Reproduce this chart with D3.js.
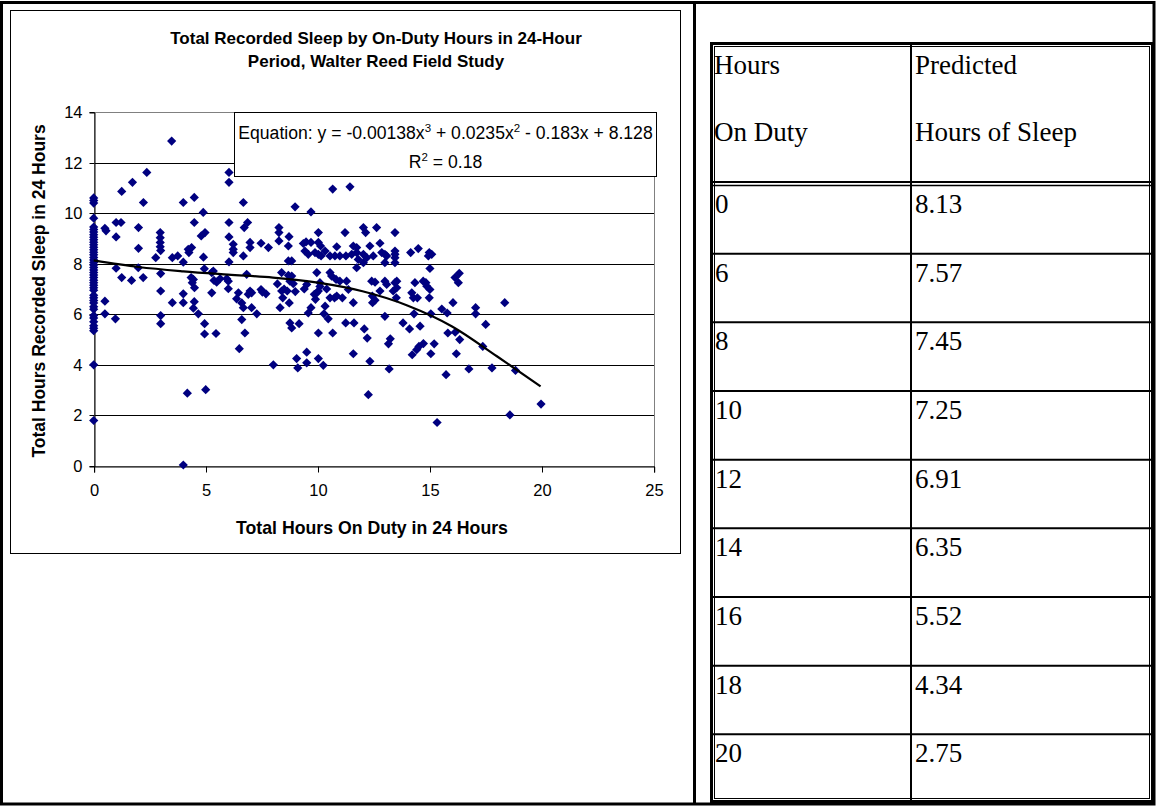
<!DOCTYPE html>
<html><head><meta charset="utf-8">
<script src="https://cdn.jsdelivr.net/npm/d3@7"></script>
<style>html,body{margin:0;padding:0;background:#fff;} svg{display:block;}</style>
</head><body>
<svg id="c" width="1156" height="806"></svg>
<script>
// ---------- data ----------
const chartTitle = ["Total Recorded Sleep by On-Duty Hours in 24-Hour", "Period, Walter Reed Field Study"];
const xTitle = "Total Hours On Duty in 24 Hours";
const yTitle = "Total Hours Recorded Sleep in 24 Hours";
const xTicks = [0, 5, 10, 15, 20, 25];
const yTicks = [0, 2, 4, 6, 8, 10, 12, 14];
// recorded sleep of subjects with 0 hours on duty
const zeroDutySleep = [10.6,10.5,10.4,9.8,9.45,9.35,9.25,9.15,9.05,8.95,8.85,8.75,8.65,8.55,8.45,8.35,8.25,8.15,8.05,7.95,7.85,7.75,7.65,7.55,7.45,7.35,7.25,7.15,7.05,6.95,6.75,6.65,6.55,6.45,6.3,6.2,5.95,5.85,5.7,5.55,5.45,5.35,4.0,1.8];
// [hours on duty, hours recorded sleep]
const dutySleep = [
[0.5,9.4],[0.55,9.3],[1.0,9.63],[1.22,9.63],[1.0,9.06],[1.25,10.86],[1.73,11.22],[2.22,10.42],[2.37,11.61],[3.48,12.85],[2.0,9.43],[2.0,8.61],[1.0,7.82],[1.25,7.45],[1.69,7.34],[1.99,7.84],[2.21,7.45],[0.5,6.52],[0.5,6.02],[0.97,5.82],
[2.97,9.23],[2.97,9.03],[2.97,8.84],[2.97,8.67],[2.99,8.52],[2.77,8.24],[2.99,7.61],[2.99,6.92],[2.99,5.95],[2.99,5.63],
[3.51,8.24],[3.75,8.31],[4.0,8.06],[4.0,10.42],[4.49,10.62],[4.22,8.57],[4.37,8.64],[4.25,8.44],[4.49,9.63],[4.89,10.03],[4.8,9.1],[4.97,9.23],[4.9,8.26],[4.35,7.45],[4.4,7.25],[4.5,7.05],[4.0,6.81],[3.51,6.46],[4.0,6.46],[4.49,6.5],[4.45,6.24],[4.67,6.02],[4.95,5.63],[4.95,5.22],[4.94,7.8],[4.18,2.88],[5.0,3.02],[4.0,0.04],
[4.45,7.38],[5.34,7.71],[5.49,7.27],[5.27,6.85],
[6.04,11.61],[6.04,11.22],[6.68,10.42],[8.99,10.25],[9.7,10.05],[10.67,10.95],[11.44,11.04],
[6.04,9.63],[6.04,9.06],[6.72,9.43],[6.87,9.63],[6.23,8.77],[6.23,8.57],[6.98,8.84],[6.98,8.64],[7.47,8.81],[7.8,8.64],[8.27,9.43],[8.27,9.23],[8.27,8.9],[8.72,9.07],[8.69,8.70],[9.36,8.8],[9.48,8.86],[9.7,8.84],[10.03,9.23],[10.03,8.84],[10.13,8.70],[11.22,9.23],[12.04,9.43],[12.14,9.23],[12.63,9.43],[12.78,8.81],[13.45,9.23],[10.85,8.67],[11.59,8.7],[11.74,8.64],[12.33,8.70],[12.86,8.44],
[6.04,8.07],[6.23,8.44],[6.68,8.31],[8.69,8.11],[8.84,8.11],[9.43,8.5],[9.58,8.37],[9.88,8.44],[10.03,8.37],[10.15,8.31],[10.33,8.5],[10.55,8.31],[10.77,8.31],[10.99,8.31],[11.26,8.31],[11.52,8.37],[11.74,8.44],[12.04,8.37],[12.19,8.24],[12.48,8.31],[13.08,8.31],[13.45,8.24],[11.81,8.17],[11.74,7.84],[12.04,8.04],
[5.27,7.65],[5.37,7.34],[5.64,7.41],[5.94,7.41],[6.01,7.01],[6.46,6.85],[6.98,6.92],[7.05,6.85],[7.47,6.98],[7.53,6.88],[6.83,7.58],[8.39,7.65],[8.69,7.54],[8.84,7.51],[8.76,7.31],[8.91,7.21],[8.39,6.92],[8.64,6.92],[9.51,7.18],[9.96,7.65],[9.96,6.85],[10.03,6.92],[10.55,7.65],[10.62,7.51],[10.82,7.38],[10.99,7.31],[11.29,7.31],[11.37,6.98],[12.41,7.31],[12.56,7.27],[12.78,6.92],[13.0,7.31],[13.08,7.18],[12.44,6.72],[13.53,7.31],[10.85,6.72],
[13.45,8.5],[13.45,8.37],[13.0,8.37],[13.0,8.04],[13.45,8.04],[14.15,8.44],[14.49,8.6],[14.98,8.44],[15.09,8.37],[14.94,8.31],[15.01,7.81],[16.13,7.45],[16.32,7.62],[16.28,7.25],[13.45,7.25],[13.53,7.05],[13.37,6.92],[14.2,6.85],[14.27,6.65],[14.34,7.25],[14.71,7.31],[14.87,7.11],[15.01,6.98],
[14.83,7.25],[14.45,6.65],[14.98,6.65],[13.51,6.65],[16.04,6.46],[15.54,6.21],[15.78,6.05],[14.3,6.02],[15.05,6.02],[13.0,5.92],[17.05,6.26],[17.05,6.02],[18.35,6.46],[13.81,5.66],[14.1,5.42],[14.57,5.53],[15.81,5.26],[16.14,5.29],[16.34,5.0],[17.5,5.6],[13.24,5.03],[13.16,4.83],[14.22,4.4],[14.42,4.6],[14.52,4.73],[14.72,4.84],[15.05,4.44],[15.2,4.83],[16.19,4.44],[17.37,4.73],[13.19,3.84],[15.73,3.61],[16.75,3.84],[17.78,3.88],[18.83,3.78],[15.33,1.72],[18.58,2.02],[19.97,2.45],
[6.01,7.31],[6.38,6.61],[6.61,6.45],[6.68,6.26],[6.9,6.79],[7.69,6.81],[7.05,6.26],[7.28,6.02],[6.61,5.79],[5.46,5.24],[6.75,5.26],[6.5,4.64],[8.02,4.0],[8.32,6.26],[8.44,6.65],[8.73,6.45],[8.76,5.66],[8.84,5.46],[9.17,5.63],[9.06,4.25],[9.11,3.88],[9.51,4.5],[9.51,4.08],[10.03,4.25],[10.25,3.98],[10.03,5.26],[9.58,6.05],[9.7,6.26],[9.85,6.79],[9.9,6.59],[10.33,6.32],[10.28,6.02],[10.47,5.82],[11.25,5.66],[11.62,5.66],[10.67,5.26],[11.59,6.46],[11.59,4.44],[12.08,5.42],[12.21,5.06],[12.33,4.14],[12.26,2.82],[12.45,6.46],[12.56,6.56],
[10.1,7.25],[10.1,7.1],[10.4,7.0],[10.55,6.65],[10.75,6.65],[11.1,6.65],[8.2,7.2],[8.5,7.0],[9.0,6.9],[9.4,7.0]
];
// fitted trend line
const trendHours = [0, 2, 4, 6, 8, 10, 12, 14, 16, 18, 19.95];
const trendSleep = [8.13, 7.87, 7.70, 7.57, 7.45, 7.25, 6.91, 6.35, 5.52, 4.34, 3.15];
const equationText = "Equation: y = -0.00138x";
const rSquared = "0.18";
// table
const tableHeadLeft = ["Hours", "On Duty"];
const tableHeadRight = ["Predicted", "Hours of Sleep"];
const tableHours = ["0", "6", "8", "10", "12", "14", "16", "18", "20"];
const tablePredicted = ["8.13", "7.57", "7.45", "7.25", "6.91", "6.35", "5.52", "4.34", "2.75"];

// ---------- drawing ----------
const svg = d3.select("#c");
const sans = "'Liberation Sans', Arial, sans-serif";
const serif = "'Liberation Serif', 'Times New Roman', serif";

// page frame
svg.append("rect").attr("x",1.5).attr("y",2.5).attr("width",1152.5).attr("height",801.5)
  .attr("fill","none").attr("stroke","#000").attr("stroke-width",3);
svg.append("line").attr("x1",694.5).attr("x2",694.5).attr("y1",2).attr("y2",805)
  .attr("stroke","#000").attr("stroke-width",3);

// chart area
svg.append("rect").attr("x",10.5).attr("y",10.5).attr("width",670).attr("height",543)
  .attr("fill","#fff").attr("stroke","#000").attr("stroke-width",1);

const x = d3.scaleLinear().domain([0,25]).range([93.7,653.7]);
const y = d3.scaleLinear().domain([0,14]).range([466,112]);
const L = Math.round(x(0)), R = Math.round(x(25)), T = Math.round(y(14)), B = Math.round(y(0));

// gridlines
svg.append("g").selectAll("line").data(yTicks.filter(v => v > 0 && v < 14)).join("line")
  .attr("x1",L).attr("x2",R).attr("y1",d => Math.round(y(d))+0.5).attr("y2",d => Math.round(y(d))+0.5)
  .attr("stroke","#000").attr("stroke-width",1);
// plot border
svg.append("rect").attr("x",L+0.5).attr("y",T+0.5).attr("width",R-L).attr("height",B-T)
  .attr("fill","none").attr("stroke","#808080").attr("stroke-width",1);

// axes
const yAxis = d3.axisLeft(y).tickValues(yTicks).tickSize(5).tickPadding(7).tickFormat(d3.format("d"));
const gy = svg.append("g").attr("transform",`translate(${L+0.5},0.5)`).call(yAxis);
const xAxis = d3.axisBottom(x).tickValues(xTicks).tickSize(6).tickPadding(12).tickFormat(d3.format("d"));
const gx = svg.append("g").attr("transform",`translate(0.5,${B+0.5})`).call(xAxis);
[gx, gy].forEach(g => {
  g.select(".domain").attr("stroke","#000");
  g.selectAll(".tick line").attr("stroke","#000");
  g.selectAll("text").attr("font-family",sans).attr("font-size",16.5).attr("fill","#000");
});
gx.selectAll(".tick").attr("transform", d => `translate(${Math.round(x(d))},0)`);
gy.selectAll(".tick").attr("transform", d => `translate(0,${Math.round(y(d))})`);

// trend line
const line = d3.line().x((d,i) => x(trendHours[i])).y(d => y(d)).curve(d3.curveMonotoneX);

// markers
const diamond = "M0,-4.6L4.6,0L0,4.6L-4.6,0Z";
const pts = zeroDutySleep.map(v => [0, v]).concat(dutySleep);
svg.append("g").selectAll("path").data(pts).join("path")
  .attr("d", diamond)
  .attr("transform", d => `translate(${x(d[0])},${y(d[1])})`)
  .attr("fill","#000080");

svg.append("path").attr("d", line(trendSleep)).attr("fill","none")
  .attr("stroke","#000").attr("stroke-width",2.2);

// equation box
svg.append("rect").attr("x",234.5).attr("y",112.5).attr("width",422).attr("height",64)
  .attr("fill","#fff").attr("stroke","#000").attr("stroke-width",1);
const eq = svg.append("text").attr("x",445.5).attr("y",139).attr("text-anchor","middle")
  .attr("font-family",sans).attr("font-size",17.6).attr("fill","#000");
eq.append("tspan").text(equationText);
eq.append("tspan").attr("font-size",11.5).attr("dy",-7).text("3");
eq.append("tspan").attr("dy",7).text(" + 0.0235x");
eq.append("tspan").attr("font-size",11.5).attr("dy",-7).text("2");
eq.append("tspan").attr("dy",7).text(" - 0.183x + 8.128");
const r2 = svg.append("text").attr("x",445.5).attr("y",168).attr("text-anchor","middle")
  .attr("font-family",sans).attr("font-size",17.6).attr("fill","#000");
r2.append("tspan").text("R");
r2.append("tspan").attr("font-size",11.5).attr("dy",-7).text("2");
r2.append("tspan").attr("dy",7).text(" = " + rSquared);

// titles
svg.append("g").selectAll("text").data(chartTitle).join("text")
  .attr("x",376).attr("y",(d,i) => 44 + i*23).attr("text-anchor","middle")
  .attr("font-family",sans).attr("font-weight","bold").attr("font-size",17).text(d => d);
svg.append("text").attr("x",372).attr("y",534).attr("text-anchor","middle")
  .attr("font-family",sans).attr("font-weight","bold").attr("font-size",17.7).text(xTitle);
svg.append("text").attr("transform","translate(45,291) rotate(-90)").attr("text-anchor","middle")
  .attr("font-family",sans).attr("font-weight","bold").attr("font-size",17.5).text(yTitle);

// ---------- table ----------
const tb = svg.append("g");
const tL = 710, tR = 1154, tT = 42, tB = 803, colX = 911;
const headBottom = 182;
const rowTop = d3.scaleLinear().domain([0, tableHours.length]).range([185, 803]);
// outer double border
tb.append("rect").attr("x",tL+1.5).attr("y",tT+1.5).attr("width",tR-tL-3).attr("height",tB-tT-3)
  .attr("fill","none").attr("stroke","#000").attr("stroke-width",3);
tb.append("rect").attr("x",tL+4.5).attr("y",tT+4.5).attr("width",tR-tL-9).attr("height",tB-tT-9)
  .attr("fill","none").attr("stroke","#000").attr("stroke-width",1);
// column divider
tb.append("line").attr("x1",colX).attr("x2",colX).attr("y1",tT+3).attr("y2",tB-3)
  .attr("stroke","#000").attr("stroke-width",2);
// header bottom double line
tb.append("line").attr("x1",tL+3).attr("x2",tR-3).attr("y1",headBottom).attr("y2",headBottom)
  .attr("stroke","#000").attr("stroke-width",2);
tb.append("line").attr("x1",tL+3).attr("x2",tR-3).attr("y1",headBottom+3.5).attr("y2",headBottom+3.5)
  .attr("stroke","#000").attr("stroke-width",1.5);
// row lines
tb.append("g").selectAll("line").data(d3.range(1, tableHours.length)).join("line")
  .attr("x1",tL+3).attr("x2",tR-3).attr("y1",d => rowTop(d)).attr("y2",d => rowTop(d))
  .attr("stroke","#000").attr("stroke-width",2);
// header text
tb.append("g").selectAll("text").data(tableHeadLeft).join("text")
  .attr("x",tL+4).attr("y",(d,i) => 74 + i*67).attr("font-family",serif).attr("font-size",27).text(d => d);
tb.append("g").selectAll("text").data(tableHeadRight).join("text")
  .attr("x",colX+4).attr("y",(d,i) => 74 + i*67).attr("font-family",serif).attr("font-size",27).text(d => d);
// body text
tb.append("g").selectAll("text").data(tableHours).join("text")
  .attr("x",tL+5).attr("y",(d,i) => rowTop(i)+28).attr("font-family",serif).attr("font-size",27).text(d => d);
tb.append("g").selectAll("text").data(tablePredicted).join("text")
  .attr("x",colX+4).attr("y",(d,i) => rowTop(i)+28).attr("font-family",serif).attr("font-size",27).text(d => d);
</script>
</body></html>
